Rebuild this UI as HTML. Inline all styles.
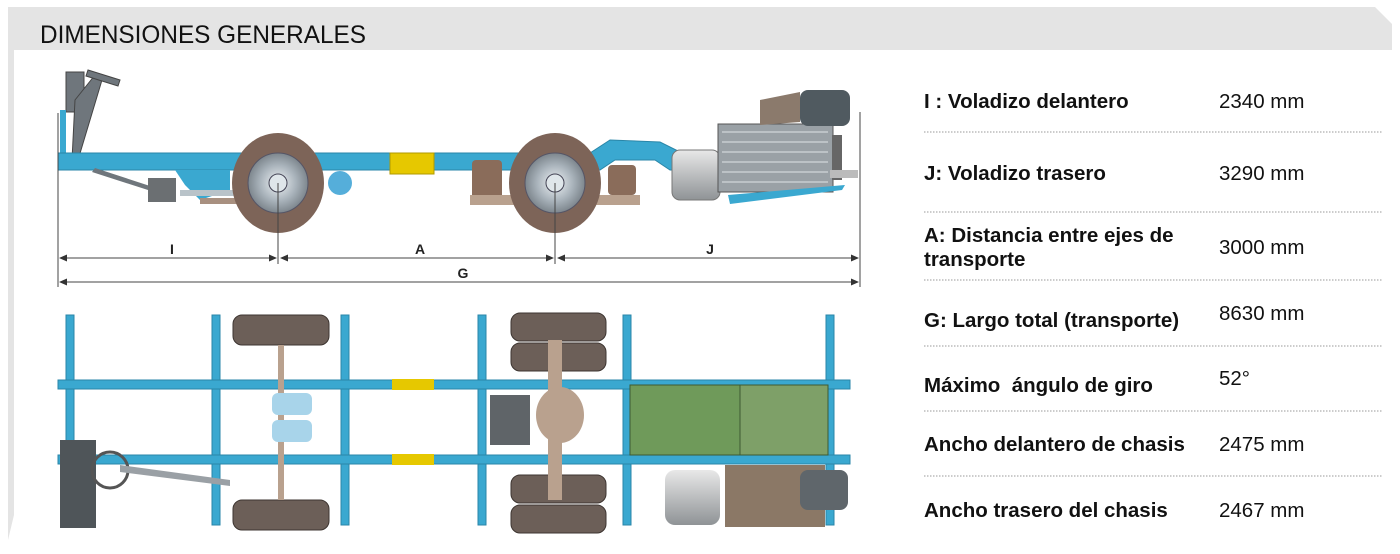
<!DOCTYPE html>
<html><head><meta charset="utf-8"><style>
html,body{margin:0;padding:0;background:#fff;width:1400px;height:554px;overflow:hidden}
svg{display:block}
.t{font-family:"Liberation Sans",Arial,sans-serif;font-weight:bold;font-size:20.5px;fill:#111}
.v{font-family:"Liberation Sans",Arial,sans-serif;font-size:20.5px;fill:#111}
.d{font-family:"Liberation Sans",Arial,sans-serif;font-weight:bold;font-size:14px;fill:#222}
</style></head><body>
<svg width="1400" height="554" viewBox="0 0 1400 554" xmlns="http://www.w3.org/2000/svg">
<defs>
<marker id="ar" markerWidth="8" markerHeight="8" refX="7" refY="4" orient="auto"><path d="M0,0.5 L8,4 L0,7.5z" fill="#333"/></marker>
<marker id="al" markerWidth="8" markerHeight="8" refX="1" refY="4" orient="auto"><path d="M8,0.5 L0,4 L8,7.5z" fill="#333"/></marker>
<radialGradient id="hub"><stop offset="0" stop-color="#eef2f5"/><stop offset="0.6" stop-color="#a9b3bb"/><stop offset="1" stop-color="#7d868d"/></radialGradient>
<linearGradient id="silv" x1="0" y1="0" x2="0" y2="1"><stop offset="0" stop-color="#e8e8e8"/><stop offset="1" stop-color="#8f9396"/></linearGradient>
</defs>
<polygon points="8,7 1375,7 1392,24 1392,50 14,50 14,515 8,540" fill="#e4e4e4"/>
<text x="40" y="43" font-family="'Liberation Sans',Arial,sans-serif" font-size="25" fill="#111" textLength="326" lengthAdjust="spacingAndGlyphs">DIMENSIONES GENERALES</text>

<g fill="#6f767c" stroke="#444" stroke-width="1">
<rect x="66" y="72" width="18" height="40"/>
<path d="M75,100 L95,75 L102,80 L84,140 L78,160 L72,160z"/>
<path d="M88,70 L120,80 L118,86 L86,76z"/>
</g>
<rect x="60" y="110" width="6" height="60" fill="#3aa8d0"/>
<path d="M58,153 L590,153 L610,140 L660,142 L680,152 L720,152 L720,170 L670,170 L655,160 L615,160 L600,170 L58,170z" fill="#3aa8d0" stroke="#2a86a8" stroke-width="1"/>
<rect x="390" y="153" width="44" height="21" fill="#e6c800" stroke="#b09a00" stroke-width="1"/>
<path d="M95,168 L150,186 L148,190 L92,172z" fill="#6f767c"/>
<rect x="148" y="178" width="28" height="24" fill="#6b6f72"/>
<path d="M175,170 L230,170 L230,190 L200,200 L185,185z" fill="#3aa8d0"/>
<rect x="180" y="190" width="60" height="6" fill="#b9c3c9"/>
<rect x="200" y="198" width="40" height="6" fill="#a89080"/>
<circle cx="340" cy="183" r="12" fill="#55aeda"/>
<rect x="472" y="160" width="30" height="40" rx="4" fill="#8a6c5a"/>
<rect x="608" y="165" width="28" height="30" rx="4" fill="#8a6c5a"/>
<path d="M470,195 L640,195 L640,205 L470,205z" fill="#b9a18e"/>
<g>
<ellipse cx="278" cy="183" rx="46" ry="50" fill="#7d6458"/>
<circle cx="278" cy="183" r="30" fill="url(#hub)" stroke="#556" stroke-width="1"/>
<circle cx="278" cy="183" r="9" fill="#dfe6ea" stroke="#445" stroke-width="1"/>
<ellipse cx="555" cy="183" rx="46" ry="50" fill="#7d6458"/>
<circle cx="555" cy="183" r="30" fill="url(#hub)" stroke="#556" stroke-width="1"/>
<circle cx="555" cy="183" r="9" fill="#dfe6ea" stroke="#445" stroke-width="1"/>
</g>
<rect x="672" y="150" width="48" height="50" rx="8" fill="url(#silv)" stroke="#777" stroke-width="1"/>
<rect x="718" y="124" width="115" height="68" fill="#9aa1a6" stroke="#555" stroke-width="1"/>
<g stroke="#c8cdd0" stroke-width="1.5"><line x1="722" y1="132" x2="828" y2="132"/><line x1="722" y1="142" x2="828" y2="142"/><line x1="722" y1="152" x2="828" y2="152"/><line x1="722" y1="162" x2="828" y2="162"/><line x1="722" y1="172" x2="828" y2="172"/><line x1="722" y1="182" x2="828" y2="182"/></g>
<path d="M728,195 L845,185 L842,190 L730,204z" fill="#3aa8d0"/>
<rect x="800" y="90" width="50" height="36" rx="8" fill="#505a60"/>
<path d="M760,100 L800,92 L800,122 L760,125z" fill="#8b7a6c"/>
<rect x="832" y="135" width="10" height="45" fill="#666"/>
<rect x="830" y="170" width="28" height="8" fill="#bbb"/>
<g stroke="#444" stroke-width="1" fill="none">
<line x1="58" y1="113" x2="58" y2="287"/>
<line x1="278" y1="183" x2="278" y2="264"/>
<line x1="555" y1="183" x2="555" y2="264"/>
<line x1="860" y1="112" x2="860" y2="287"/>
<line x1="60" y1="258" x2="276" y2="258" marker-start="url(#al)" marker-end="url(#ar)"/>
<line x1="281" y1="258" x2="553" y2="258" marker-start="url(#al)" marker-end="url(#ar)"/>
<line x1="558" y1="258" x2="858" y2="258" marker-start="url(#al)" marker-end="url(#ar)"/>
<line x1="60" y1="282" x2="858" y2="282" marker-start="url(#al)" marker-end="url(#ar)"/>
</g>
<text class="d" x="172" y="254" text-anchor="middle">I</text>
<text class="d" x="420" y="254" text-anchor="middle">A</text>
<text class="d" x="710" y="254" text-anchor="middle">J</text>
<text class="d" x="463" y="278" text-anchor="middle">G</text>

<g fill="#3aa8d0" stroke="#2a86a8" stroke-width="1">
<rect x="66" y="315" width="8" height="210"/>
<rect x="212" y="315" width="8" height="210"/>
<rect x="341" y="315" width="8" height="210"/>
<rect x="478" y="315" width="8" height="210"/>
<rect x="623" y="315" width="8" height="210"/>
<rect x="826" y="315" width="8" height="210"/>
<rect x="58" y="380" width="792" height="9"/>
<rect x="58" y="455" width="792" height="9"/>
</g>
<rect x="392" y="379" width="42" height="11" fill="#e6c800"/>
<rect x="392" y="454" width="42" height="11" fill="#e6c800"/>
<g fill="#6c5f58" stroke="#3e3632" stroke-width="1">
<rect x="233" y="315" width="96" height="30" rx="9"/>
<rect x="233" y="500" width="96" height="30" rx="9"/>
<rect x="511" y="313" width="95" height="28" rx="9"/>
<rect x="511" y="343" width="95" height="28" rx="9"/>
<rect x="511" y="475" width="95" height="28" rx="9"/>
<rect x="511" y="505" width="95" height="28" rx="9"/>
</g>
<rect x="278" y="345" width="6" height="155" fill="#b9a18e"/>
<rect x="272" y="393" width="40" height="22" rx="6" fill="#a8d4ea"/>
<rect x="272" y="420" width="40" height="22" rx="6" fill="#a8d4ea"/>
<rect x="548" y="340" width="14" height="160" fill="#b9a18e"/>
<ellipse cx="560" cy="415" rx="24" ry="28" fill="#b9a18e"/>
<rect x="490" y="395" width="40" height="50" fill="#5f6468"/>
<rect x="630" y="385" width="120" height="70" fill="#6f9a5a" stroke="#3d5a32" stroke-width="1"/>
<rect x="740" y="385" width="88" height="70" fill="#7ea068" stroke="#3d5a32" stroke-width="1"/>
<rect x="665" y="470" width="55" height="55" rx="10" fill="url(#silv)"/>
<rect x="725" y="465" width="100" height="62" fill="#8b7866"/>
<rect x="800" y="470" width="48" height="40" rx="8" fill="#5f666b"/>
<rect x="60" y="440" width="36" height="88" fill="#4f5559"/>
<circle cx="110" cy="470" r="18" fill="none" stroke="#555" stroke-width="3"/>
<path d="M120,465 L230,480 L230,486 L120,472z" fill="#9aa0a5"/>

<g stroke="#999" stroke-width="1" stroke-dasharray="1.5,1.5">
<line x1="924" y1="132" x2="1383" y2="132"/>
<line x1="924" y1="212" x2="1383" y2="212"/>
<line x1="924" y1="280" x2="1383" y2="280"/>
<line x1="924" y1="346" x2="1383" y2="346"/>
<line x1="924" y1="411" x2="1383" y2="411"/>
<line x1="924" y1="476" x2="1383" y2="476"/>
</g>
<text class="t" x="924" y="108">I : Voladizo delantero</text><text class="v" x="1219" y="108">2340 mm</text>
<text class="t" x="924" y="180">J: Voladizo trasero</text><text class="v" x="1219" y="180">3290 mm</text>
<text class="t" x="924" y="242">A: Distancia entre ejes de</text>
<text class="t" x="924" y="266">transporte</text><text class="v" x="1219" y="254">3000 mm</text>
<text class="t" x="924" y="327">G: Largo total (transporte)</text><text class="v" x="1219" y="320">8630 mm</text>
<text class="t" x="924" y="392" xml:space="preserve">Máximo  ángulo de giro</text><text class="v" x="1219" y="385">52°</text>
<text class="t" x="924" y="451">Ancho delantero de chasis</text><text class="v" x="1219" y="451">2475 mm</text>
<text class="t" x="924" y="517">Ancho trasero del chasis</text><text class="v" x="1219" y="517">2467 mm</text>
</svg>
</body></html>
